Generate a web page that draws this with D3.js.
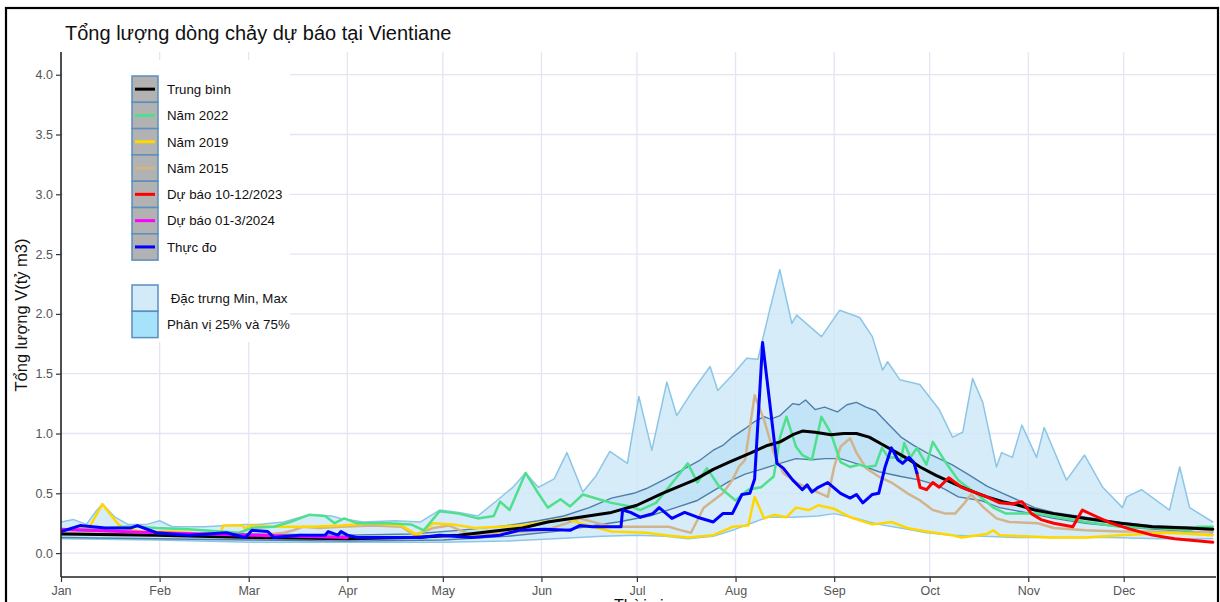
<!DOCTYPE html>
<html><head><meta charset="utf-8">
<script src="https://cdn.jsdelivr.net/npm/d3@7"></script>
<style>
html,body{margin:0;padding:0;background:#fff;}
svg{display:block;font-family:"Liberation Sans",Arial,sans-serif;}
</style></head>
<body>
<svg id="chart" width="1220" height="602"></svg>
<script>
// ---- DATA (day of year, value in tỷ m3) ----
const monthLabels = ["Jan","Feb","Mar","Apr","May","Jun","Jul","Aug","Sep","Oct","Nov","Dec"];
const monthStartDays = [0,31,59,90,120,151,181,212,243,273,304,334];
const yTicks = [0,0.5,1,1.5,2,2.5,3,3.5,4];

const seriesMax = [[0,0.26],[4,0.28],[8,0.24],[11,0.35],[13,0.41],[17,0.3],[21,0.24],[27,0.24],[31,0.27],[35,0.22],[45,0.22],[52,0.23],[58,0.24],[62,0.24],[70,0.26],[78,0.32],[85,0.31],[88,0.29],[95,0.26],[105,0.27],[113,0.26],[119,0.36],[125,0.34],[131,0.31],[137,0.44],[142,0.55],[146,0.67],[150,0.55],[155,0.62],[159,0.84],[164,0.51],[168,0.64],[172.5,0.85],[178,0.75],[181.6,1.31],[185.7,0.86],[190.4,1.43],[193.5,1.15],[198.6,1.36],[204,1.56],[206.4,1.36],[211,1.49],[215.5,1.63],[219,1.62],[222.7,2.03],[225.9,2.37],[229.7,1.92],[231.2,1.99],[239,1.81],[244.7,2.03],[251,1.97],[255,1.81],[258.2,1.53],[259.8,1.6],[263.6,1.45],[269.9,1.41],[276,1.2],[280.2,0.97],[283.4,1.01],[286.5,1.46],[289.7,1.26],[294,0.72],[295.6,0.84],[299,0.8],[302,1.07],[306.6,0.8],[309,1.05],[316,0.61],[321.7,0.82],[327.4,0.55],[333.6,0.38],[334.9,0.47],[339.6,0.53],[348.4,0.36],[351.6,0.72],[354.7,0.38],[362,0.26]];
const seriesMin = [[0,0.12],[30,0.11],[60,0.09],[90,0.09],[120,0.09],[140,0.1],[155,0.12],[170,0.14],[181,0.15],[190,0.14],[197,0.12],[205,0.14],[212,0.2],[218,0.26],[222,0.3],[230,0.3],[238,0.31],[243,0.33],[250,0.29],[257,0.24],[266,0.2],[272,0.17],[280,0.15],[290,0.14],[300,0.13],[315,0.13],[330,0.13],[345,0.12],[362,0.12]];
const seriesP75 = [[0,0.19],[30,0.17],[60,0.16],[90,0.15],[110,0.16],[125,0.19],[140,0.23],[150,0.27],[158,0.31],[166,0.38],[173,0.46],[180,0.5],[184,0.54],[190,0.62],[197,0.72],[201,0.78],[205,0.86],[208,0.9],[211,0.97],[215,1.04],[218,1.1],[221,1.14],[223,1.12],[226,1.15],[230,1.25],[232,1.24],[234,1.28],[237,1.2],[240,1.22],[244,1.18],[247,1.24],[250,1.26],[253,1.22],[256,1.19],[260,1.08],[264,0.97],[268,0.9],[272,0.84],[276,0.79],[280,0.74],[285,0.66],[291,0.56],[296,0.5],[301,0.44],[306,0.38],[312,0.34],[322,0.3],[332,0.26],[343,0.23],[362,0.21]];
const seriesP25 = [[0,0.13],[30,0.12],[60,0.11],[90,0.1],[120,0.11],[140,0.14],[155,0.18],[165,0.22],[175,0.26],[185,0.31],[192,0.37],[200,0.44],[205,0.52],[210,0.6],[215,0.66],[220,0.7],[226,0.75],[231,0.79],[236,0.78],[240,0.79],[245,0.79],[251,0.74],[257,0.68],[264,0.64],[270,0.61],[275,0.57],[278,0.53],[282,0.47],[289,0.44],[295,0.38],[303,0.34],[312,0.29],[322,0.25],[333,0.22],[354,0.18],[362,0.17]];
const seriesMean = [[0,0.16],[30,0.15],[60,0.13],[90,0.12],[110,0.13],[125,0.15],[135,0.18],[145,0.21],[153,0.26],[163,0.3],[173,0.34],[181,0.4],[189,0.5],[199,0.61],[205,0.7],[210,0.76],[217,0.84],[222,0.9],[226,0.93],[230,0.99],[233,1.02],[237,1.01],[242,0.99],[246,1.0],[250,1.0],[254,0.97],[258,0.91],[262,0.85],[266,0.79],[270,0.72],[275,0.65],[280,0.59],[285,0.53],[291,0.47],[296,0.43],[301,0.4],[306,0.36],[312,0.33],[322,0.29],[333,0.25],[343,0.22],[354,0.21],[362,0.2]];
const series2022 = [[0,0.19],[5,0.2],[10,0.2],[15,0.21],[20,0.22],[24,0.22],[30,0.21],[40,0.2],[50,0.18],[56,0.17],[60,0.21],[67,0.22],[72,0.26],[78,0.32],[83,0.31],[86,0.25],[89,0.29],[93,0.25],[103,0.25],[110,0.24],[114,0.19],[119,0.35],[125,0.33],[131,0.29],[136,0.31],[138,0.43],[141,0.36],[146,0.67],[150,0.5],[153,0.38],[157,0.45],[160,0.39],[164,0.49],[169,0.45],[173,0.42],[179,0.39],[182,0.36],[187,0.42],[191,0.55],[197,0.75],[200,0.59],[203,0.71],[207,0.55],[212,0.44],[216,0.53],[220,0.55],[224,0.64],[226,0.97],[228,1.14],[231,0.89],[233,0.82],[236,0.78],[239,1.14],[242,1.0],[245,0.76],[248,0.72],[251,0.74],[253,0.72],[256,0.73],[258,0.88],[260,0.8],[262,0.8],[264,0.78],[265,0.92],[267,0.8],[269,0.88],[272,0.74],[274,0.93],[278,0.76],[282,0.61],[286,0.53],[289,0.47],[293,0.38],[297,0.33],[303,0.33],[307,0.33],[311,0.31],[322,0.26],[333,0.22],[344,0.21],[355,0.19],[357,0.22],[362,0.22]];
const series2019 = [[0,0.19],[5,0.2],[9,0.22],[13,0.41],[18,0.24],[20,0.21],[25,0.18],[35,0.18],[46,0.16],[50,0.16],[51,0.23],[57,0.23],[58,0.2],[59,0.23],[67,0.22],[78,0.22],[88,0.23],[98,0.25],[107,0.23],[112,0.15],[117,0.25],[123,0.24],[130,0.21],[138,0.22],[145,0.23],[152,0.26],[159,0.29],[163,0.25],[173,0.18],[184,0.17],[190,0.15],[197,0.13],[205,0.15],[211,0.22],[216,0.23],[218,0.47],[221,0.29],[224,0.32],[228,0.3],[231,0.38],[235,0.36],[238,0.4],[243,0.37],[248,0.3],[255,0.24],[261,0.26],[266,0.21],[272,0.18],[280,0.15],[283,0.13],[291,0.16],[293,0.19],[295,0.15],[303,0.14],[311,0.13],[322,0.13],[333,0.15],[348,0.17],[362,0.15]];
const series2015 = [[0,0.17],[30,0.15],[60,0.14],[70,0.17],[73,0.19],[76,0.22],[81,0.21],[88,0.22],[98,0.23],[107,0.22],[111,0.15],[117,0.21],[122,0.23],[129,0.15],[138,0.17],[152,0.19],[159,0.25],[163,0.29],[173,0.22],[184,0.22],[191,0.22],[195,0.19],[198,0.17],[202,0.38],[205,0.44],[208,0.5],[211,0.61],[213,0.72],[215,0.78],[216.5,1.05],[218,1.32],[221,1.11],[224,0.84],[227,0.67],[231,0.59],[236,0.53],[241,0.47],[243,0.72],[245,0.89],[248,0.96],[250,0.84],[253,0.71],[257,0.64],[261,0.59],[266,0.5],[270,0.44],[274,0.36],[278,0.33],[281,0.33],[284,0.42],[286,0.49],[290,0.38],[294,0.29],[298,0.26],[307,0.25],[312,0.21],[322,0.19],[333,0.18],[343,0.18],[354,0.17],[362,0.18]];
const seriesForecast2023 = [[269,0.67],[270,0.55],[272,0.53],[274,0.59],[276,0.55],[279,0.63],[281,0.59],[283,0.55],[287,0.51],[291,0.47],[295,0.42],[299,0.41],[302,0.43],[305,0.33],[308,0.28],[312,0.25],[318,0.22],[321,0.36],[325,0.31],[330,0.25],[336,0.2],[343,0.15],[350,0.12],[362,0.09]];
const seriesForecast2024 = [[0,0.2],[30,0.17],[60,0.15],[90,0.13]];
const seriesObserved = [[0,0.18],[6,0.23],[14,0.21],[22,0.21],[24,0.23],[30,0.17],[40,0.15],[52,0.17],[58,0.13],[60,0.19],[65,0.18],[67,0.13],[75,0.15],[83,0.15],[84,0.18],[87,0.15],[88,0.18],[90,0.15],[93,0.13],[105,0.13],[113,0.13],[119,0.15],[129,0.13],[138,0.15],[144,0.19],[152,0.2],[160,0.19],[163,0.23],[167,0.22],[176,0.22],[176.5,0.36],[179,0.34],[182,0.3],[186,0.33],[188,0.38],[192,0.29],[196,0.34],[200,0.3],[205,0.26],[208,0.33],[211,0.33],[214,0.49],[216.5,0.5],[218,0.62],[220.5,1.76],[223,1.2],[225,0.75],[227,0.71],[230,0.61],[233,0.53],[234.5,0.57],[236,0.51],[238,0.55],[241,0.59],[245,0.5],[248,0.46],[250,0.49],[252,0.42],[255,0.49],[257,0.5],[259,0.72],[261,0.88],[263,0.78],[264.5,0.75],[266.5,0.8],[268,0.76],[269,0.67]];

const legendLineLabels = ["Trung bình","Năm 2022","Năm 2019","Năm 2015","Dự báo 10-12/2023","Dự báo 01-3/2024","Thực đo"];
const legendLineColors = ["#000000","#4ee08c","#ffd700","#d2b48c","#ff0000","#ff00ff","#0000ff"];
const legendFillLabels = [" Đặc trưng Min, Max","Phân vị 25% và 75%"];
const legendFillColors = ["#d3eaf9","#a6e3fa"];

// ---- LAYOUT ----
const svg = d3.select("#chart");
const plotL = 61, plotR = 1216, plotT = 52, plotB = 577;
const x = d3.scaleLinear().domain([0,363]).range([plotL, plotR]);
const y = d3.scaleLinear().domain([-0.2,4.19]).range([plotB, plotT]);

svg.append("defs").append("clipPath").attr("id","clip")
  .append("rect").attr("x",plotL).attr("y",plotT).attr("width",plotR-plotL).attr("height",plotB-plotT);

// gridlines
const grid = svg.append("g");
grid.selectAll("line.h").data(yTicks).join("line")
  .attr("x1",plotL).attr("x2",plotR).attr("y1",d=>y(d)).attr("y2",d=>y(d))
  .attr("stroke","#e4e4f4").attr("stroke-width",1.3);
grid.selectAll("line.v").data(monthStartDays.slice(1)).join("line")
  .attr("x1",d=>x(d)).attr("x2",d=>x(d)).attr("y1",plotT).attr("y2",plotB)
  .attr("stroke","#e4e4f4").attr("stroke-width",1.3);

const g = svg.append("g").attr("clip-path","url(#clip)");
const line = d3.line().x(d=>x(d[0])).y(d=>y(d[1]));

// bands
const band = (upper, lower) => line(upper.concat(lower.slice().reverse())) + "Z";
g.append("path").attr("d", band(seriesMax, seriesMin)).attr("fill","#cde7f8").attr("fill-opacity",0.8);
g.append("path").attr("d", band(seriesP75, seriesP25)).attr("fill","#9fd6f3").attr("fill-opacity",0.35);

const drawLine = (data, color, w) => g.append("path").attr("d", line(data))
  .attr("fill","none").attr("stroke",color).attr("stroke-width",w)
  .attr("stroke-linejoin","round").attr("stroke-linecap","round");

drawLine(seriesMax, "#8cc6e6", 1.5);
drawLine(seriesMin, "#8cc6e6", 1.5);
drawLine(seriesP75, "#4f7fa8", 1.4);
drawLine(seriesP25, "#4f7fa8", 1.4);
drawLine(series2015, legendLineColors[3], 2.5);
drawLine(series2019, legendLineColors[2], 2.5);
drawLine(series2022, legendLineColors[1], 2.5);
drawLine(seriesMean, legendLineColors[0], 3);
drawLine(seriesForecast2023, legendLineColors[4], 3);
drawLine(seriesForecast2024, legendLineColors[5], 3);
drawLine(seriesObserved, legendLineColors[6], 3);

// axes
const xAxis = d3.axisBottom(x).tickValues(monthStartDays).tickFormat((d,i)=>monthLabels[i]).tickSize(5).tickPadding(4);
const yAxis = d3.axisLeft(y).tickValues(yTicks).tickFormat(d3.format(".1f")).tickSize(5).tickPadding(3);
const gx = svg.append("g").attr("transform",`translate(0,${plotB})`).call(xAxis);
const gy = svg.append("g").attr("transform",`translate(${plotL},0)`).call(yAxis);
[gx,gy].forEach(a=>{
  a.select(".domain").attr("stroke","#222").attr("stroke-width",1.6);
  a.selectAll(".tick line").attr("stroke","#333").attr("stroke-width",1.2);
  a.selectAll(".tick text").attr("fill","#555").style("font-size","12.5px").style("font-family","'Liberation Sans',Arial,sans-serif");
});
gx.select(".domain").attr("d",`M${plotL},0H${plotR}`);
gy.select(".domain").attr("d",`M0,${plotT}V${plotB}`);

// titles
svg.append("text").attr("x",65).attr("y",40).text("Tổng lượng dòng chảy dự báo tại Vientiane")
  .style("font-size","20px").attr("fill","#111");
svg.append("text").attr("transform","translate(27,315) rotate(-90)").attr("text-anchor","middle")
  .text("Tổng lượng V(tỷ m3)").style("font-size","16.5px").attr("fill","#111");
svg.append("text").attr("x",614).attr("y",611).text("Thời gian").style("font-size","16px").attr("fill","#111");

// legend
const lg = svg.append("g");
lg.append("rect").attr("x",63).attr("y",60).attr("width",227).attr("height",282).attr("fill","#fff");
const rowH = 26.3, boxX = 132, boxW = 26, row0 = 76;
legendLineLabels.forEach((lab,i)=>{
  const yy = row0 + i*rowH;
  lg.append("rect").attr("x",boxX).attr("y",yy).attr("width",boxW).attr("height",rowH)
    .attr("fill","#b2b2b2").attr("stroke","#5a8fc0").attr("stroke-width",1.5);
  lg.append("line").attr("x1",boxX+3).attr("x2",boxX+boxW-3).attr("y1",yy+rowH/2).attr("y2",yy+rowH/2)
    .attr("stroke",legendLineColors[i]).attr("stroke-width",3);
  lg.append("text").attr("x",167).attr("y",yy+rowH/2+4.8).text(lab).style("font-size","13.3px").attr("fill","#111");
});
legendFillLabels.forEach((lab,i)=>{
  const yy = 285 + i*rowH;
  lg.append("rect").attr("x",boxX).attr("y",yy).attr("width",boxW).attr("height",rowH)
    .attr("fill",legendFillColors[i]).attr("stroke","#5a8fc0").attr("stroke-width",1.5);
  lg.append("text").attr("x",167).attr("y",yy+rowH/2+4.8).text(lab).style("font-size","13.3px").attr("fill","#111")
    .style("white-space","pre");
});

// outer frame
svg.append("rect").attr("x",6).attr("y",8).attr("width",1212).attr("height",610)
  .attr("fill","none").attr("stroke","#000").attr("stroke-width",2.2);
</script>
</body></html>
